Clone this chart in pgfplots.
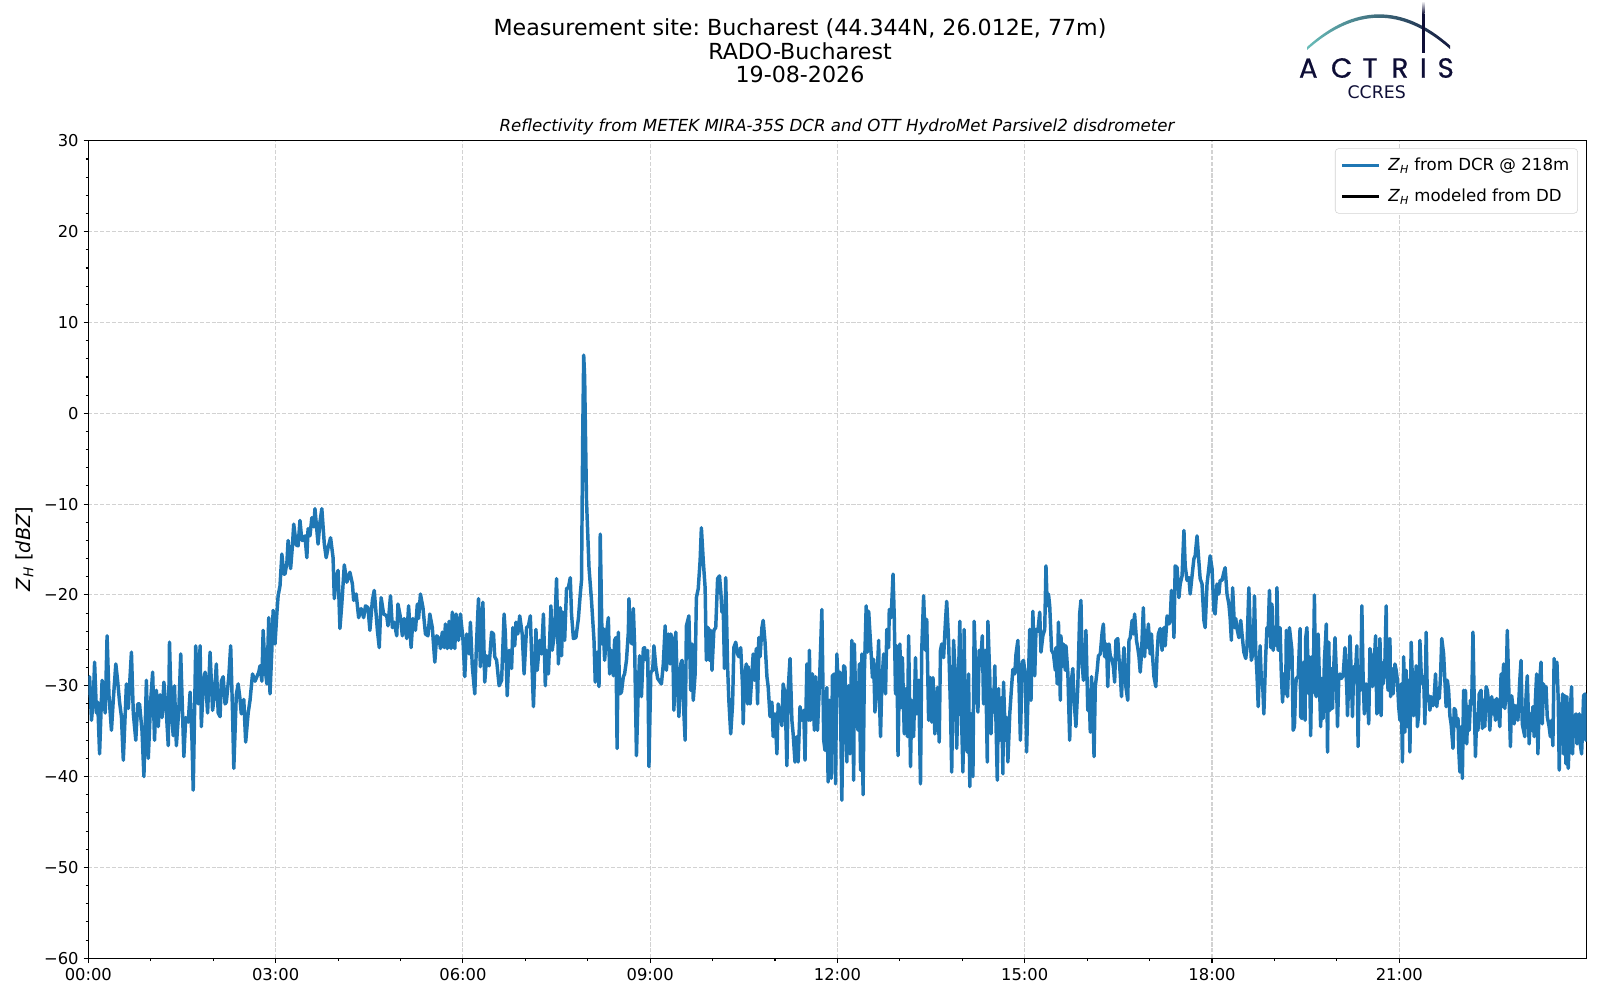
\documentclass[border=0pt]{standalone}
\usepackage{fontspec}
\setmainfont{DejaVu Sans}
\newfontfamily\logofont[FakeBold=0.6]{Poppins}
\usepackage{pgfplots}
\pgfplotsset{compat=1.18}
\definecolor{tabblue}{HTML}{1F77B4}
\definecolor{gridc}{RGB}{210,210,210}
\definecolor{navy}{HTML}{0E0E36}
\definecolor{tealc}{HTML}{6CC4BE}
\definecolor{legc}{RGB}{210,210,210}
\frenchspacing
\begin{document}
\begin{tikzpicture}[x=0.01in,y=-0.01in]
\path[use as bounding box] (0,0) rectangle (1600,1000);
% titles
\node[anchor=base,font=\fontsize{16}{18}\selectfont] at (800,35.7) {Measurement site: Bucharest (44.344N, 26.012E, 77m)};
\node[anchor=base,font=\fontsize{16}{18}\selectfont] at (800,59.2) {RADO-Bucharest};
\node[anchor=base,font=\fontsize{16}{18}\selectfont] at (800,82.7) {19-08-2026};
\node[anchor=base,font=\fontsize{12}{14}\selectfont\itshape] at (837,131.6) {Reflectivity from METEK MIRA-35S DCR and OTT HydroMet Parsivel2 disdrometer};
% logo
\begin{scope}
\clip (1307,50) .. controls (1354.3,7.7) and (1402,6.7) .. (1450,49) -- (1450,45.5) .. controls (1402,3.2) and (1354.3,4.2) .. (1307,47) -- cycle;
\shade[left color=tealc, middle color=navy, right color=navy] (1300,0) rectangle (1460,56);
\end{scope}
\shade[top color=white, bottom color=navy] (1422,1) rectangle (1424.6,14);
\fill[navy] (1422,14) rectangle (1424.6,53);
\foreach \xx/\ll in {1308.3/A,1341.7/C,1370/T,1400/R,1423.3/I,1445.7/S}{
  \node[anchor=base,inner sep=0pt,text=navy,font=\logofont\fontsize{20}{20}\selectfont] at (\xx,77.7) {\ll};
}
\node[anchor=base,inner sep=0pt,text=navy,font=\fontsize{12.5}{13}\selectfont] at (1376.7,98.5) {CCRES};
% y label
\node[rotate=90,font=\fontsize{14}{16}\selectfont] at (24.5,549) {\textit{Z}\textsubscript{\textit{H}} [\textit{dBZ}]};
\begin{axis}[
  at={(0.883in,-9.577in)}, anchor=south west,
  scale only axis, width=14.974in, height=8.17in,
  xmin=0, xmax=24, ymin=-60, ymax=30,
  xtick={0,3,...,21},
  xticklabels={00:00,03:00,06:00,09:00,12:00,15:00,18:00,21:00},
  minor x tick num=2,
  ytick={-60,-50,...,30},
  yticklabels={−60,−50,−40,−30,−20,−10,0,10,20,30},
  minor y tick num=4,
  tick align=outside, tick pos=left,
  major tick length=3.5pt, minor tick length=2pt,
  every tick/.style={black, line width=0.8pt},
  axis line style={line width=0.8pt},
  grid=major,
  major grid style={gridc, line width=0.8pt, dash pattern=on 2.96pt off 1.28pt},
  ticklabel style={font=\fontsize{11.8}{13}\selectfont},
  legend cell align=left,
  legend style={at={(1,1)}, anchor=north east, xshift=-0.087in, yshift=-0.075in,
    draw=legc, rounded corners=2.5pt, fill=white,
    font=\fontsize{12}{14}\selectfont, inner xsep=4pt, inner ysep=5pt,
    row sep=7.5pt, column sep=4pt},
  legend image code/.code={\draw[#1, line width=2.2pt] (0cm,0cm) -- (0.92cm,0cm);},
]
\addplot[tabblue, line width=2.5pt, line join=round] table[row sep=\\] {
x y\\
0.00 -31.0\\ 0.02 -29.0\\ 0.05 -33.8\\ 0.08 -31.5\\ 0.10 -27.4\\ 0.13 -33.0\\ 0.15 -31.8\\ 0.18 -37.5\\ 0.22 -29.4\\ 0.25 -31.6\\
0.27 -33.0\\ 0.30 -24.5\\ 0.33 -31.0\\ 0.37 -34.9\\ 0.40 -31.5\\ 0.44 -27.6\\ 0.47 -29.5\\ 0.50 -31.8\\ 0.53 -33.4\\ 0.56 -38.2\\
0.61 -29.8\\ 0.64 -32.5\\ 0.69 -26.3\\ 0.72 -33.0\\ 0.76 -36.0\\ 0.79 -32.0\\ 0.82 -32.0\\ 0.86 -35.0\\ 0.89 -40.0\\ 0.93 -29.4\\
0.96 -38.0\\ 1.00 -31.5\\ 1.03 -28.5\\ 1.06 -36.0\\ 1.09 -30.5\\ 1.12 -34.5\\ 1.15 -31.0\\ 1.18 -33.5\\ 1.21 -29.6\\ 1.25 -33.0\\
1.28 -36.6\\ 1.30 -25.2\\ 1.33 -33.0\\ 1.36 -35.5\\ 1.38 -30.0\\ 1.41 -36.6\\ 1.45 -32.5\\ 1.48 -26.5\\ 1.53 -37.8\\ 1.56 -33.5\\
1.60 -34.0\\ 1.63 -30.7\\ 1.66 -36.0\\ 1.68 -41.5\\ 1.72 -25.6\\ 1.76 -32.0\\ 1.79 -25.6\\ 1.81 -34.5\\ 1.84 -30.0\\ 1.87 -28.5\\
1.91 -33.0\\ 1.95 -26.3\\ 1.99 -32.7\\ 2.02 -31.0\\ 2.05 -27.6\\ 2.08 -33.0\\ 2.11 -33.4\\ 2.13 -29.5\\ 2.16 -29.0\\ 2.19 -32.0\\
2.21 -31.8\\ 2.25 -29.0\\ 2.28 -25.6\\ 2.31 -33.0\\ 2.33 -39.1\\ 2.37 -31.0\\ 2.40 -29.8\\ 2.43 -31.5\\ 2.45 -33.1\\ 2.49 -31.5\\
2.52 -36.2\\ 2.56 -33.0\\ 2.59 -31.6\\ 2.63 -28.7\\ 2.67 -29.5\\ 2.70 -29.0\\ 2.73 -28.5\\ 2.75 -27.8\\ 2.78 -29.5\\ 2.80 -23.9\\
2.83 -28.0\\ 2.86 -29.8\\ 2.89 -22.5\\ 2.91 -30.9\\ 2.94 -26.0\\ 2.96 -21.7\\ 2.99 -25.4\\ 3.02 -22.0\\ 3.04 -20.1\\ 3.07 -19.0\\
3.10 -15.5\\ 3.13 -17.7\\ 3.15 -17.7\\ 3.18 -16.5\\ 3.20 -14.0\\ 3.24 -17.1\\ 3.27 -14.5\\ 3.29 -12.2\\ 3.33 -14.5\\ 3.36 -14.6\\
3.39 -11.8\\ 3.42 -14.0\\ 3.44 -14.0\\ 3.47 -13.5\\ 3.50 -15.9\\ 3.52 -12.7\\ 3.55 -13.5\\ 3.58 -11.5\\ 3.61 -12.5\\ 3.63 -10.5\\
3.68 -14.4\\ 3.71 -12.0\\ 3.74 -10.5\\ 3.78 -14.4\\ 3.81 -15.9\\ 3.84 -14.8\\
3.88 -13.7\\ 3.92 -15.9\\ 3.94 -20.4\\ 3.97 -18.1\\ 4.00 -17.3\\ 4.03 -23.7\\ 4.06 -21.0\\ 4.10 -16.7\\ 4.14 -18.6\\ 4.19 -17.5\\
4.23 -18.8\\ 4.25 -20.6\\ 4.29 -19.9\\ 4.33 -22.5\\ 4.37 -21.5\\ 4.41 -22.5\\ 4.44 -21.2\\ 4.48 -21.4\\ 4.51 -23.9\\ 4.55 -20.6\\
4.58 -19.5\\ 4.63 -23.9\\ 4.66 -25.8\\ 4.69 -20.3\\ 4.73 -22.1\\ 4.78 -22.3\\ 4.80 -23.4\\ 4.84 -20.1\\ 4.87 -23.6\\ 4.90 -23.0\\
4.94 -24.5\\ 4.96 -21.0\\ 5.00 -22.5\\ 5.03 -24.5\\ 5.06 -22.6\\ 5.10 -24.8\\ 5.13 -21.2\\ 5.17 -25.8\\ 5.20 -22.6\\ 5.24 -23.9\\
5.27 -21.0\\ 5.29 -22.6\\ 5.32 -19.9\\ 5.36 -21.4\\ 5.40 -24.3\\ 5.44 -24.5\\ 5.47 -22.1\\ 5.51 -23.6\\ 5.55 -27.4\\ 5.58 -24.5\\
5.62 -24.8\\ 5.64 -25.9\\ 5.67 -24.1\\ 5.70 -25.8\\ 5.72 -23.2\\ 5.75 -25.9\\ 5.78 -22.9\\ 5.81 -25.9\\ 5.83 -21.9\\ 5.87 -25.9\\
5.89 -22.1\\ 5.93 -25.0\\ 5.96 -22.1\\ 6.00 -24.8\\ 6.03 -29.0\\ 6.06 -24.3\\ 6.10 -26.5\\ 6.12 -23.0\\ 6.15 -27.8\\ 6.19 -30.9\\
6.22 -25.0\\ 6.25 -20.4\\ 6.28 -27.9\\ 6.32 -20.8\\ 6.35 -29.6\\ 6.38 -26.7\\ 6.42 -27.8\\ 6.46 -24.1\\ 6.49 -24.3\\ 6.51 -26.8\\
6.54 -27.2\\ 6.58 -30.0\\ 6.62 -29.4\\ 6.66 -22.1\\ 6.68 -24.3\\ 6.71 -31.1\\ 6.74 -26.1\\ 6.78 -28.1\\ 6.80 -23.6\\ 6.83 -25.6\\
6.85 -23.0\\ 6.88 -24.3\\ 6.91 -22.3\\ 6.95 -24.3\\ 6.98 -28.7\\ 7.02 -23.6\\ 7.05 -23.4\\ 7.08 -22.3\\ 7.10 -26.5\\ 7.13 -32.3\\
7.17 -23.8\\ 7.19 -28.3\\ 7.23 -25.0\\ 7.26 -26.5\\ 7.29 -22.1\\ 7.32 -30.0\\ 7.34 -26.1\\ 7.37 -28.7\\ 7.41 -21.2\\ 7.43 -26.1\\
7.47 -24.1\\ 7.50 -18.2\\ 7.53 -27.6\\ 7.56 -21.4\\ 7.58 -26.7\\ 7.60 -21.9\\ 7.63 -25.0\\ 7.66 -19.3\\ 7.69 -19.2\\ 7.72 -18.1\\
7.74 -22.1\\ 7.77 -24.8\\ 7.81 -24.7\\ 7.85 -22.6\\ 7.88 -19.9\\ 7.90 -18.4\\ 7.92 -2.0\\ 7.935 6.4\\ 7.95 4.0\\ 7.965 -3.0\\
7.98 -9.6\\ 8.02 -17.0\\ 8.06 -20.6\\ 8.10 -25.0\\ 8.12 -29.6\\ 8.15 -26.3\\ 8.18 -30.1\\ 8.20 -13.3\\ 8.23 -25.4\\ 8.25 -23.7\\
8.27 -27.2\\ 8.30 -24.3\\ 8.33 -22.5\\ 8.35 -28.7\\ 8.38 -26.1\\ 8.41 -28.9\\ 8.43 -25.0\\ 8.45 -24.7\\ 8.47 -36.9\\ 8.49 -24.1\\
8.51 -30.9\\ 8.54 -30.7\\ 8.57 -29.0\\ 8.59 -28.7\\ 8.62 -27.2\\ 8.65 -24.1\\ 8.66 -20.4\\ 8.68 -25.0\\ 8.71 -25.4\\ 8.73 -21.5\\
8.75 -25.4\\ 8.78 -37.7\\ 8.81 -30.1\\ 8.83 -26.7\\ 8.86 -31.2\\ 8.89 -25.9\\ 8.91 -25.8\\ 8.94 -27.2\\ 8.96 -26.1\\ 8.98 -38.9\\
9.01 -28.5\\ 9.04 -28.3\\ 9.06 -25.6\\ 9.09 -27.9\\ 9.12 -29.2\\ 9.16 -29.6\\ 9.18 -29.8\\ 9.21 -27.6\\ 9.24 -23.4\\ 9.26 -28.3\\
9.29 -24.3\\ 9.32 -27.6\\ 9.33 -24.3\\ 9.36 -25.0\\ 9.38 -32.7\\ 9.41 -24.1\\ 9.43 -29.0\\ 9.46 -33.4\\ 9.49 -27.6\\ 9.51 -27.2\\
9.54 -33.1\\ 9.56 -36.0\\ 9.58 -23.4\\ 9.62 -22.3\\ 9.65 -30.5\\ 9.67 -25.4\\ 9.69 -31.6\\ 9.72 -28.7\\ 9.74 -20.3\\ 9.77 -19.3\\
9.80 -16.2\\ 9.82 -12.6\\ 9.85 -16.2\\ 9.88 -19.2\\ 9.90 -27.2\\ 9.93 -23.6\\ 9.95 -27.2\\ 9.97 -23.9\\ 9.99 -28.3\\ 10.02 -23.9\\
10.05 -23.6\\ 10.08 -18.2\\ 10.11 -17.9\\ 10.13 -19.5\\ 10.15 -21.9\\ 10.17 -21.4\\ 10.19 -28.1\\ 10.21 -18.1\\ 10.24 -27.9\\ 10.26 -31.6\\
10.29 -35.3\\ 10.32 -32.0\\ 10.34 -25.8\\ 10.37 -25.2\\ 10.40 -26.5\\ 10.42 -26.8\\ 10.45 -25.8\\ 10.48 -30.1\\ 10.49 -34.2\\ 10.51 -29.0\\
10.54 -27.6\\ 10.56 -32.0\\ 10.57 -27.9\\ 10.60 -32.0\\ 10.63 -28.7\\ 10.65 -26.5\\ 10.67 -29.4\\ 10.70 -25.9\\ 10.72 -32.0\\ 10.74 -24.7\\
10.76 -26.8\\ 10.79 -23.6\\ 10.81 -22.8\\ 10.84 -25.2\\ 10.87 -29.0\\ 10.89 -30.1\\ 10.92 -33.4\\ 10.95 -31.8\\ 10.97 -35.6\\ 11.00 -33.1\\
11.03 -37.5\\ 11.05 -32.0\\ 11.08 -32.9\\ 11.11 -34.4\\ 11.13 -29.8\\ 11.16 -30.9\\ 11.19 -38.8\\ 11.21 -30.5\\ 11.24 -27.0\\ 11.27 -33.8\\
11.29 -35.3\\ 11.32 -38.4\\ 11.35 -35.6\\ 11.37 -38.4\\ 11.40 -32.3\\ 11.43 -33.8\\ 11.46 -32.7\\ 11.48 -38.2\\ 11.51 -27.6\\ 11.54 -33.8\\
11.55 -26.1\\ 11.57 -33.8\\ 11.60 -28.7\\ 11.63 -34.9\\ 11.65 -29.0\\ 11.68 -34.9\\ 11.71 -30.1\\
11.75 -21.6\\ 11.78 -36.0\\ 11.80 -37.1\\ 11.83 -30.2\\ 11.85 -40.6\\ 11.87 -31.6\\ 11.90 -40.2\\ 11.92 -28.9\\ 11.95 -28.7\\ 11.97 -40.8\\
11.99 -26.5\\ 12.02 -31.1\\ 12.04 -28.5\\ 12.07 -42.6\\ 12.10 -27.8\\ 12.12 -28.0\\ 12.15 -38.4\\ 12.18 -30.0\\ 12.20 -37.5\\ 12.23 -25.0\\
12.26 -40.4\\ 12.27 -25.4\\ 12.30 -33.5\\ 12.33 -34.9\\ 12.35 -27.6\\ 12.37 -39.3\\ 12.39 -26.5\\ 12.41 -42.0\\ 12.43 -28.9\\ 12.46 -21.2\\
12.48 -26.3\\ 12.50 -21.8\\ 12.54 -26.5\\ 12.56 -29.1\\ 12.58 -27.1\\ 12.60 -32.9\\ 12.63 -29.8\\ 12.66 -25.0\\ 12.67 -30.9\\ 12.69 -35.6\\
12.71 -29.8\\ 12.74 -26.5\\ 12.77 -30.9\\ 12.79 -23.8\\ 12.82 -25.8\\ 12.83 -21.6\\ 12.86 -22.5\\ 12.89 -17.7\\ 12.91 -22.5\\ 12.93 -30.9\\
12.95 -25.6\\ 12.97 -37.7\\ 13.00 -25.4\\ 13.02 -32.4\\ 13.04 -26.9\\ 13.07 -35.3\\ 13.10 -30.3\\ 13.12 -35.6\\ 13.14 -24.5\\ 13.17 -38.9\\
13.19 -31.6\\ 13.22 -35.6\\ 13.25 -26.9\\ 13.27 -33.1\\ 13.30 -29.4\\ 13.33 -40.8\\ 13.35 -26.1\\ 13.38 -20.1\\ 13.41 -26.1\\ 13.43 -22.7\\
13.46 -33.8\\ 13.49 -29.1\\ 13.51 -34.0\\ 13.53 -29.1\\ 13.56 -35.3\\ 13.58 -33.6\\ 13.60 -30.2\\ 13.63 -36.2\\ 13.65 -26.1\\ 13.67 -25.4\\
13.70 -26.9\\ 13.73 -22.9\\ 13.75 -20.7\\ 13.78 -25.0\\ 13.81 -32.4\\ 13.83 -39.5\\ 13.86 -25.0\\ 13.89 -29.1\\ 13.91 -36.9\\ 13.94 -28.7\\
13.96 -22.9\\ 13.98 -31.6\\ 14.01 -39.5\\ 14.03 -23.8\\ 14.05 -36.4\\ 14.08 -37.3\\ 14.10 -28.7\\ 14.12 -41.1\\ 14.14 -33.1\\ 14.17 -40.0\\
14.19 -22.9\\ 14.22 -29.6\\ 14.25 -32.9\\ 14.27 -26.1\\ 14.29 -27.8\\ 14.32 -24.5\\ 14.34 -32.0\\ 14.37 -26.1\\ 14.40 -38.4\\ 14.41 -22.9\\
14.44 -29.1\\ 14.46 -35.3\\ 14.48 -30.5\\ 14.50 -32.9\\ 14.52 -27.8\\ 14.54 -34.2\\ 14.56 -40.4\\ 14.58 -30.3\\ 14.60 -36.0\\ 14.63 -31.3\\
14.65 -39.7\\ 14.66 -29.6\\ 14.69 -36.0\\ 14.71 -33.5\\ 14.73 -38.4\\ 14.76 -33.1\\ 14.79 -30.0\\ 14.81 -28.2\\ 14.84 -28.7\\ 14.86 -26.5\\
14.89 -25.0\\ 14.91 -30.3\\ 14.93 -36.0\\ 14.96 -27.4\\ 14.98 -27.2\\ 15.01 -28.9\\ 15.03 -37.3\\ 15.05 -31.6\\ 15.08 -23.8\\ 15.10 -31.6\\
15.13 -21.8\\ 15.16 -28.9\\ 15.18 -23.8\\ 15.21 -24.0\\ 15.24 -21.9\\ 15.26 -26.3\\ 15.29 -24.5\\ 15.32 -23.8\\ 15.34 -16.8\\ 15.36 -21.2\\
15.38 -19.9\\ 15.40 -21.2\\
15.43 -26.1\\ 15.46 -26.5\\ 15.49 -28.3\\ 15.50 -25.8\\ 15.52 -29.8\\ 15.54 -23.0\\ 15.57 -31.6\\ 15.58 -24.5\\ 15.60 -27.9\\ 15.62 -25.4\\
15.65 -28.3\\ 15.66 -25.6\\ 15.69 -28.5\\ 15.72 -36.0\\ 15.74 -29.8\\ 15.77 -28.1\\ 15.79 -31.6\\ 15.82 -34.5\\ 15.85 -30.1\\ 15.88 -22.1\\
15.90 -20.6\\ 15.92 -27.6\\ 15.94 -29.4\\ 15.97 -26.5\\ 15.98 -23.9\\ 16.01 -32.7\\ 16.03 -30.5\\ 16.05 -35.1\\ 16.07 -29.0\\ 16.09 -32.3\\
16.11 -37.8\\ 16.13 -30.1\\ 16.16 -28.3\\ 16.18 -26.7\\ 16.21 -26.5\\ 16.24 -24.1\\ 16.26 -23.2\\ 16.28 -26.8\\ 16.31 -25.4\\ 16.33 -30.1\\
16.35 -25.4\\ 16.37 -26.7\\ 16.40 -27.2\\ 16.42 -27.9\\ 16.44 -29.6\\ 16.46 -25.0\\ 16.49 -24.8\\ 16.51 -27.0\\ 16.53 -28.7\\ 16.55 -31.2\\
16.57 -27.8\\ 16.59 -25.8\\ 16.62 -30.1\\ 16.65 -31.6\\ 16.67 -25.0\\ 16.69 -24.7\\ 16.72 -22.8\\ 16.74 -24.3\\ 16.76 -22.1\\ 16.79 -25.0\\
16.81 -25.8\\ 16.83 -26.8\\ 16.85 -28.5\\ 16.87 -26.5\\ 16.90 -21.4\\ 16.92 -26.8\\ 16.94 -23.9\\ 16.96 -25.8\\ 16.98 -23.2\\ 17.01 -26.5\\
17.03 -24.3\\ 17.05 -27.0\\ 17.07 -29.0\\ 17.10 -30.1\\ 17.12 -26.5\\ 17.14 -24.3\\ 17.17 -23.7\\ 17.20 -26.1\\ 17.23 -23.6\\ 17.25 -25.6\\
17.28 -22.3\\ 17.31 -23.2\\ 17.33 -22.8\\ 17.35 -19.5\\ 17.37 -20.6\\ 17.39 -24.7\\ 17.41 -16.8\\ 17.44 -17.0\\ 17.47 -20.3\\ 17.49 -18.8\\
17.52 -17.9\\ 17.55 -12.9\\ 17.57 -16.8\\ 17.60 -18.4\\ 17.63 -18.1\\ 17.65 -19.9\\ 17.68 -17.9\\ 17.71 -16.0\\ 17.73 -15.7\\ 17.76 -13.5\\
17.79 -16.4\\ 17.81 -18.2\\ 17.84 -18.8\\ 17.87 -22.8\\ 17.89 -23.6\\ 17.92 -18.8\\ 17.95 -17.0\\ 17.97 -15.7\\ 18.00 -17.1\\ 18.03 -21.7\\
18.05 -22.1\\ 18.08 -18.8\\ 18.11 -19.9\\ 18.13 -18.4\\ 18.16 -18.4\\ 18.19 -17.5\\ 18.21 -17.0\\ 18.24 -19.9\\ 18.27 -21.0\\ 18.29 -22.5\\
18.31 -25.0\\ 18.33 -19.2\\ 18.36 -23.6\\ 18.38 -22.6\\ 18.40 -23.7\\ 18.43 -24.7\\ 18.46 -22.8\\ 18.48 -24.3\\ 18.51 -26.3\\ 18.54 -27.0\\
18.56 -25.8\\ 18.59 -19.2\\ 18.62 -25.8\\ 18.63 -27.2\\ 18.66 -26.3\\ 18.68 -20.1\\ 18.70 -26.1\\ 18.72 -28.7\\ 18.74 -32.3\\ 18.77 -25.6\\
18.79 -29.4\\ 18.81 -29.6\\ 18.83 -33.1\\ 18.86 -26.7\\ 18.88 -23.6\\ 18.90 -23.9\\ 18.92 -19.5\\ 18.94 -25.8\\ 18.96 -21.0\\ 18.98 -26.1\\
19.00 -23.6\\ 19.03 -25.6\\ 19.04 -19.2\\ 19.06 -26.1\\ 19.09 -23.6\\ 19.11 -28.7\\ 19.13 -31.8\\ 19.15 -28.7\\ 19.18 -30.9\\ 19.19 -23.9\\
19.21 -31.2\\ 19.24 -23.6\\
19.28 -26.1\\ 19.30 -34.9\\ 19.32 -34.5\\ 19.34 -30.1\\ 19.35 -29.2\\ 19.38 -29.0\\ 19.41 -23.7\\ 19.42 -33.4\\ 19.44 -33.6\\ 19.47 -27.4\\
19.49 -33.8\\ 19.50 -24.8\\ 19.52 -23.6\\ 19.55 -30.9\\ 19.56 -26.8\\ 19.58 -35.5\\ 19.60 -26.8\\ 19.62 -30.7\\ 19.64 -20.0\\ 19.66 -30.9\\
19.67 -31.2\\ 19.70 -24.3\\ 19.72 -29.4\\ 19.74 -34.5\\ 19.76 -29.2\\ 19.78 -33.6\\ 19.80 -27.2\\ 19.82 -24.8\\ 19.83 -23.2\\ 19.85 -37.3\\
19.87 -25.2\\ 19.89 -32.7\\ 19.91 -28.1\\ 19.93 -32.5\\ 19.95 -27.9\\ 19.97 -24.7\\ 19.99 -28.3\\ 20.01 -34.5\\ 20.03 -29.2\\ 20.05 -28.7\\
20.07 -29.2\\ 20.10 -28.9\\ 20.11 -27.9\\ 20.13 -25.8\\ 20.16 -30.5\\ 20.17 -33.3\\ 20.19 -29.4\\ 20.21 -24.5\\ 20.23 -28.7\\ 20.25 -33.4\\
20.27 -27.9\\ 20.29 -29.6\\ 20.32 -25.6\\ 20.34 -36.7\\ 20.36 -28.1\\ 20.38 -30.5\\ 20.40 -21.2\\ 20.42 -29.0\\ 20.44 -33.1\\ 20.47 -29.8\\
20.49 -30.9\\ 20.51 -34.2\\ 20.53 -25.9\\ 20.55 -26.8\\ 20.57 -30.1\\ 20.59 -28.7\\ 20.62 -24.5\\ 20.64 -33.1\\ 20.66 -25.9\\ 20.67 -32.9\\
20.69 -24.8\\ 20.71 -33.3\\ 20.72 -27.4\\ 20.74 -29.8\\ 20.77 -27.2\\ 20.79 -21.2\\ 20.80 -27.9\\ 20.82 -30.5\\ 20.85 -24.8\\ 20.86 -31.2\\
20.88 -28.1\\ 20.90 -30.9\\ 20.93 -27.6\\ 20.95 -28.3\\ 20.97 -29.4\\ 20.99 -32.3\\ 21.01 -33.8\\ 21.03 -29.8\\ 21.05 -38.4\\ 21.07 -26.8\\
21.09 -35.1\\ 21.11 -28.3\\ 21.13 -34.5\\ 21.15 -29.4\\ 21.17 -37.3\\ 21.19 -25.2\\ 21.21 -29.4\\ 21.23 -33.3\\ 21.25 -31.6\\ 21.27 -27.8\\
21.29 -34.5\\ 21.31 -33.1\\ 21.33 -25.0\\ 21.35 -28.5\\ 21.37 -29.8\\ 21.39 -29.0\\ 21.41 -34.2\\ 21.43 -24.1\\ 21.45 -31.6\\ 21.47 -31.1\\
21.49 -32.7\\ 21.51 -31.2\\ 21.54 -32.2\\ 21.56 -31.1\\ 21.58 -28.7\\ 21.60 -32.3\\ 21.62 -30.9\\ 21.64 -31.4\\ 21.66 -29.0\\ 21.68 -24.8\\
21.71 -26.5\\ 21.73 -29.4\\ 21.75 -32.3\\ 21.77 -29.4\\ 21.79 -30.5\\ 21.81 -33.3\\ 21.83 -34.2\\ 21.86 -36.9\\ 21.88 -32.5\\ 21.90 -32.7\\
21.92 -34.5\\ 21.94 -33.6\\ 21.95 -36.7\\ 21.97 -39.5\\ 21.99 -34.5\\ 22.01 -40.2\\ 22.03 -30.5\\ 22.04 -35.6\\ 22.06 -30.5\\ 22.08 -36.4\\
22.10 -32.3\\ 22.12 -34.9\\ 22.14 -31.6\\ 22.16 -32.0\\ 22.18 -24.1\\ 22.20 -31.6\\ 22.22 -37.8\\ 22.24 -33.1\\ 22.26 -34.9\\ 22.28 -30.9\\
22.31 -30.5\\ 22.33 -34.7\\ 22.35 -31.6\\ 22.37 -34.5\\ 22.39 -30.1\\ 22.41 -30.5\\ 22.43 -31.8\\ 22.45 -34.9\\ 22.48 -31.2\\ 22.50 -33.1\\
22.52 -31.6\\ 22.54 -33.8\\ 22.56 -31.4\\ 22.58 -32.3\\ 22.61 -34.5\\ 22.63 -28.7\\ 22.65 -32.3\\ 22.67 -27.6\\ 22.69 -32.5\\ 22.71 -30.5\\
22.73 -23.9\\ 22.75 -29.4\\ 22.78 -36.7\\ 22.80 -31.1\\ 22.82 -32.3\\ 22.84 -34.2\\ 22.86 -32.2\\ 22.88 -32.3\\ 22.90 -33.8\\ 22.93 -29.4\\
22.95 -27.2\\ 22.97 -34.2\\ 22.99 -34.9\\ 23.01 -35.6\\ 23.03 -31.2\\ 23.05 -28.9\\ 23.08 -36.4\\ 23.10 -33.1\\ 23.12 -34.9\\ 23.14 -32.3\\
23.16 -35.6\\ 23.18 -31.6\\ 23.20 -28.7\\ 23.22 -37.5\\ 23.25 -29.4\\ 23.27 -27.4\\ 23.29 -34.2\\ 23.31 -29.8\\ 23.33 -31.6\\ 23.35 -30.1\\
23.37 -33.4\\ 23.40 -34.5\\ 23.42 -35.6\\ 23.44 -33.8\\ 23.46 -36.6\\ 23.48 -27.0\\ 23.50 -29.4\\ 23.525 -27.4\\ 23.546 -31.6\\ 23.562 -39.3\\
23.578 -33.1\\ 23.600 -33.3\\ 23.616 -30.9\\ 23.632 -37.5\\ 23.653 -31.1\\ 23.669 -38.6\\ 23.685 -31.2\\ 23.706 -39.1\\ 23.723 -36.0\\ 23.739 -32.7\\
23.760 -30.1\\ 23.776 -37.5\\ 23.792 -33.3\\ 23.813 -33.5\\ 23.829 -33.1\\ 23.846 -36.4\\ 23.867 -33.5\\ 23.883 -33.1\\ 23.899 -36.4\\ 23.920 -37.5\\
23.936 -34.6\\ 23.952 -31.1\\ 23.974 -30.9\\ 23.990 -36.0\\ 24.00 -33.1\\
};
\addlegendentry{\textit{Z}\textsubscript{\textit{H}} from DCR @ 218m}
\addlegendimage{black, line width=2pt}
\addlegendentry{\textit{Z}\textsubscript{\textit{H}} modeled from DD}
\end{axis}
\end{tikzpicture}
\end{document}
